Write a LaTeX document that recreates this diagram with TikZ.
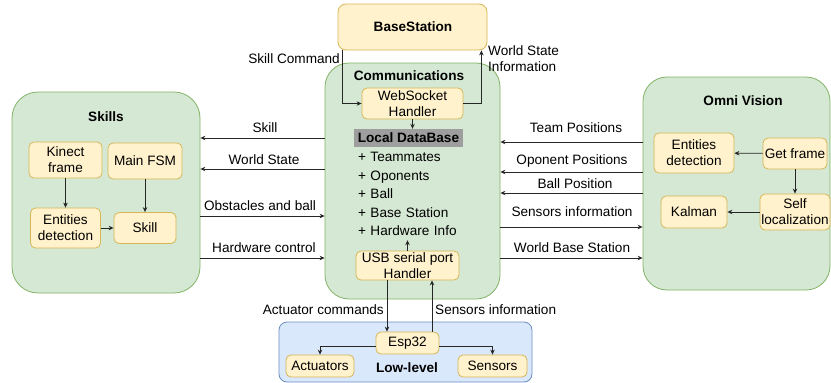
\documentclass[tikz,border=0pt]{standalone}
\usepackage{fontspec}
\setmainfont{Liberation Sans}
\usetikzlibrary{arrows.meta}
\definecolor{grnfill}{HTML}{D5E8D4}
\definecolor{grnline}{HTML}{82B366}
\definecolor{ylwfill}{HTML}{FFF2CC}
\definecolor{ylwline}{HTML}{D6B656}
\definecolor{bluefill}{HTML}{DAE8FC}
\definecolor{blueline}{HTML}{6C8EBF}
\definecolor{dbgray}{HTML}{9E9E9E}
\begin{document}
\begin{tikzpicture}[x=1pt,y=-1pt]
            \tikzstyle{every node} = [font=\fontsize{13.6}{16}\selectfont, inner sep=0pt]
            \tikzstyle{group} = [draw=grnline, fill=grnfill, rounded corners=26pt, line width=0.8pt]
            \tikzstyle{block} = [draw=ylwline, fill=ylwfill, rounded corners=5pt, align=center, line width=0.8pt]
            \tikzstyle{title} = [font=\fontsize{13.6}{16}\selectfont\bfseries]
            \tikzstyle{ann} = [text height=9.5pt, text depth=2.7pt]
            \tikzstyle{arr} = [-{Stealth[length=5pt,width=4.5pt]}, line width=0.8pt, draw=black!85]
            \useasboundingbox (0,0) rectangle (831,383);
            % containers
            \node[group, minimum width=188, minimum height=201] (skills) at (106,192.5) {};
            \node[group, minimum width=175, minimum height=236, rounded corners=24pt] (comm) at (412.5,181) {};
            \node[group, minimum width=187, minimum height=213, rounded corners=24pt] (omni) at (736.5,183.5) {};
            \node[block, minimum width=149, minimum height=46, rounded corners=8pt] (base) at (412.5,27) {};
            \node[draw=blueline, fill=bluefill, line width=0.8pt, rounded corners=8pt, minimum width=253, minimum height=60] (low) at (405.5,352) {};
            \node[title] (baset) at (413,27) {BaseStation};
            \node[title] (skillst) at (106,117) {Skills};
            \node[title] (commt) at (409,76) {Communications};
            \node[title] (omnit) at (743,101) {Omni Vision};
            \node[title] (lowt) at (407,368) {Low-level};
            % skills
            \node[block, minimum width=73, minimum height=36] (kinect) at (65.5,160) {Kinect\\frame};
            \node[block, minimum width=74, minimum height=36] (fsm) at (145,161) {Main FSM};
            \node[block, minimum width=70, minimum height=40] (entl) at (65.5,228) {Entities\\detection};
            \node[block, minimum width=62, minimum height=31] (skill) at (145,228) {Skill};
            \draw[arr, line width=0.5pt] (kinect) -- (entl);
            \draw[arr] (fsm) -- (skill);
            \draw[arr] (entl) -- (skill);
            % communications
            \node[block, minimum width=101, minimum height=31] (ws) at (412.5,103.5) {WebSocket\\Handler};
            \node[fill=dbgray, minimum width=109, minimum height=18, font=\fontsize{13.6}{16}\selectfont\bfseries] (dbhead) at (408.5,138) {Local DataBase};
            \node[minimum width=109, minimum height=92, text width=101, align=left, font=\fontsize{13.6}{18.5}\selectfont] (dblist) at (408.5,194) {+ Teammates\\+ Oponents\\+ Ball\\+ Base Station\\+ Hardware Info};
            \node[block, minimum width=103, minimum height=29] (usb) at (407.5,265.5) {USB serial port\\Handler};
            \draw[arr] (ws.south) -- (ws.south |- dbhead.north);
            \draw[arr] (usb.north) -- (usb.north |- dblist.south);
            \draw[arr] ([xshift=5pt]base.south west) |- (ws.west);
            \draw[arr] (ws.east) -| ([xshift=-6pt]base.south east);
            \node[ann, anchor=east] (lcmd) at (340,60) {Skill Command};
            \node[anchor=west, align=left] (lwsi) at (488,59) {World State\\Information};
            % omni vision
            \node[block, minimum width=80, minimum height=40] (entr) at (694,153) {Entities\\detection};
            \node[block, minimum width=64, minimum height=31] (getf) at (795,153.5) {Get frame};
            \node[block, minimum width=70, minimum height=36] (selfl) at (795,212) {Self\\localization};
            \node[block, minimum width=66, minimum height=32] (kalman) at (694,212) {Kalman};
            \draw[arr] (getf) -- (entr);
            \draw[arr] (getf) -- (selfl);
            \draw[arr] (selfl) -- (kalman);
            % low level
            \node[block, minimum width=63, minimum height=22] (esp) at (407.5,343) {Esp32};
            \node[block, minimum width=68, minimum height=22] (act) at (320,366) {Actuators};
            \node[block, minimum width=69, minimum height=22] (sens) at (492.5,366) {Sensors};
            \draw[arr] ([yshift=-3pt]esp.west) -| (act.north);
            \draw[arr] ([yshift=-3pt]esp.east) -| (sens.north);
            \draw[arr] ([xshift=-20.5pt]usb.south) -- ([xshift=-20.5pt]usb.south |- esp.north);
            \draw[arr] ([xshift=24.5pt]esp.north) -- ([xshift=24.5pt]esp.north |- usb.south);
            \node[ann, anchor=east] (lact) at (384,311) {Actuator commands};
            \node[ann, anchor=west] (lsen) at (435,311) {Sensors information};
            % skills <-> communications
            \draw[arr] (comm.west |- 0,138) -- (skills.east |- 0,138);
            \draw[arr] (comm.west |- 0,169) -- (skills.east |- 0,169);
            \draw[arr] (skills.east |- 0,216) -- (comm.west |- 0,216);
            \draw[arr] (skills.east |- 0,258) -- (comm.west |- 0,258);
            \node[ann] (lskill) at (265,129) {Skill};
            \node[ann] (lworld) at (264,161) {World State};
            \node[ann] (lobst) at (260,207) {Obstacles and ball};
            \node[ann] (lhw) at (264,249) {Hardware control};
            % communications <-> omni vision
            \draw[arr] (omni.west |- 0,142) -- (comm.east |- 0,142);
            \draw[arr] (omni.west |- 0,172) -- (comm.east |- 0,172);
            \draw[arr] (omni.west |- 0,193) -- (comm.east |- 0,193);
            \draw[arr] (comm.east |- 0,227) -- (omni.west |- 0,227);
            \draw[arr] (comm.east |- 0,258) -- (omni.west |- 0,258);
            \node[ann] (lteam) at (576,129) {Team Positions};
            \node[ann] (lopp) at (572,161) {Oponent Positions};
            \node[ann] (lball) at (575,185) {Ball Position};
            \node[ann] (lsinf) at (572,213) {Sensors information};
            \node[ann] (lwbs) at (572,249) {World Base Station};
        \end{tikzpicture}
\end{document}
